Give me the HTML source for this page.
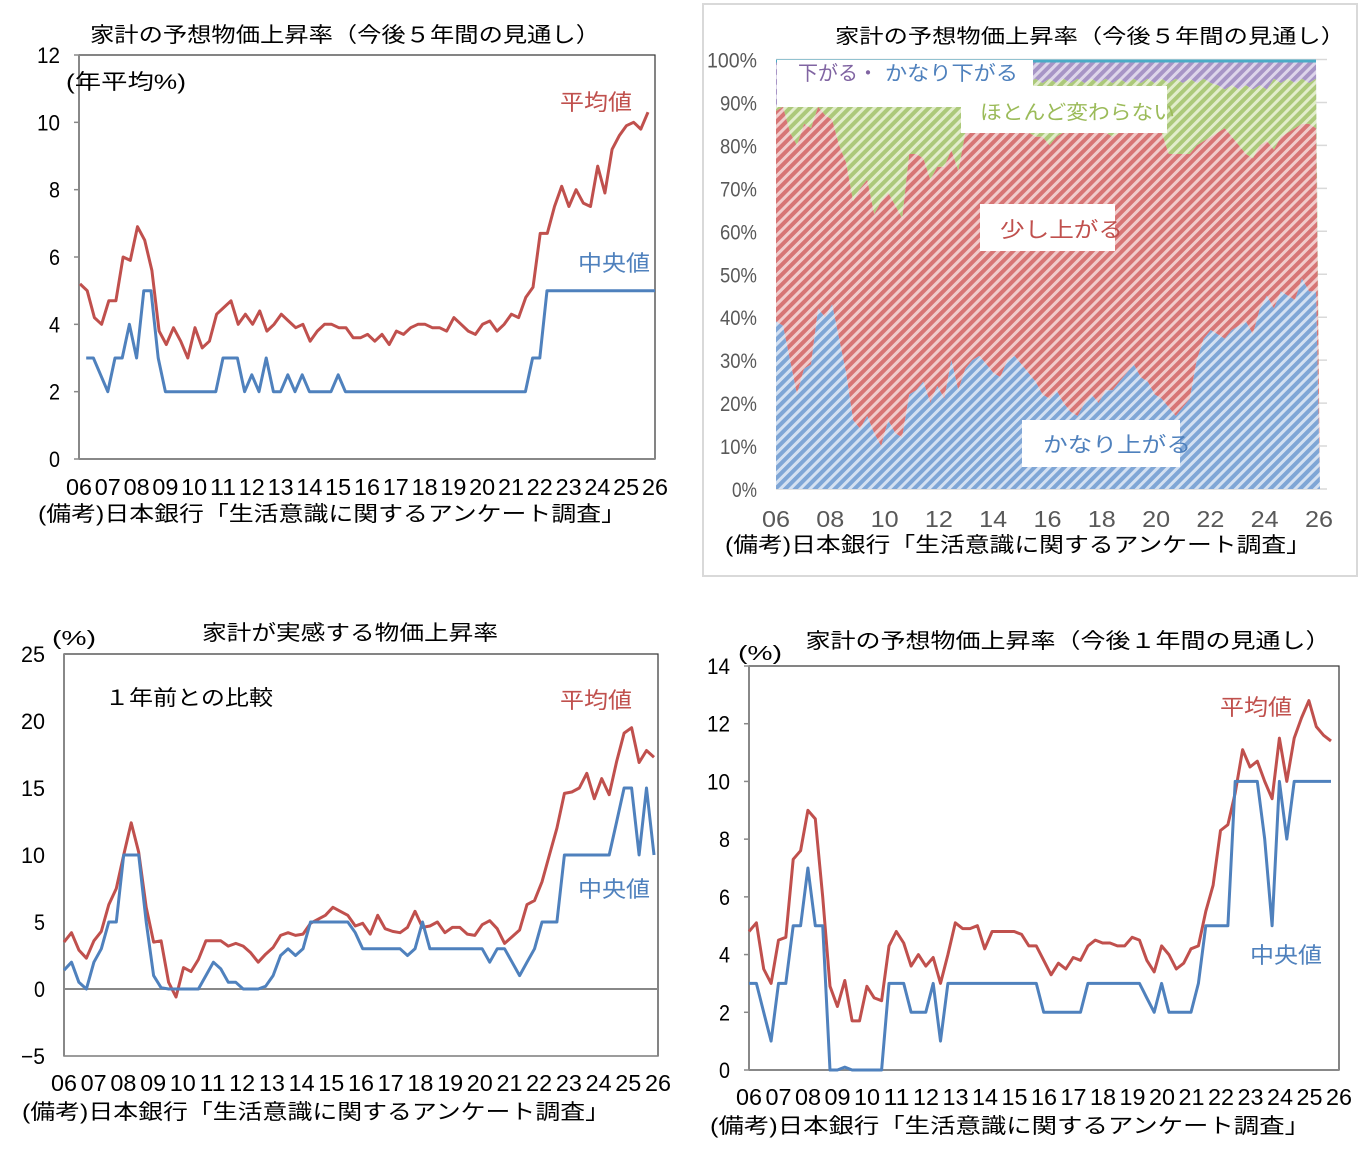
<!DOCTYPE html>
<html><head><meta charset="utf-8"><style>
html,body{margin:0;padding:0;background:#fff;}
svg{display:block;font-family:"Liberation Sans","Noto Sans CJK JP",sans-serif;}
</style></head><body>
<svg id="s" width="1368" height="1167" viewBox="0 0 1368 1167" xmlns="http://www.w3.org/2000/svg">
<defs>
<pattern id="pb" width="7" height="7" patternUnits="userSpaceOnUse" patternTransform="rotate(45)"><rect width="7" height="7" fill="#7fa6d6"/><rect width="3" height="7" fill="#d4e1f2"/></pattern>
<pattern id="pr" width="7" height="7" patternUnits="userSpaceOnUse" patternTransform="rotate(45)"><rect width="7" height="7" fill="#d77575"/><rect width="3" height="7" fill="#f1cccc"/></pattern>
<pattern id="pg" width="7" height="7" patternUnits="userSpaceOnUse" patternTransform="rotate(45)"><rect width="7" height="7" fill="#acc97a"/><rect width="3" height="7" fill="#e2edcc"/></pattern>
<pattern id="pp" width="7" height="7" patternUnits="userSpaceOnUse" patternTransform="rotate(45)"><rect width="7" height="7" fill="#a795c6"/><rect width="3" height="7" fill="#ddd5ea"/></pattern>
</defs>
<g id="g"></g>
</svg>
<script>
var g=document.getElementById('g');var NS='http://www.w3.org/2000/svg';
function el(t,a,txt){var e=document.createElementNS(NS,t);for(var k in a)e.setAttribute(k,a[k]);if(txt!=null)e.textContent=txt;g.appendChild(e);return e;}
function T(x,y,s,txt,o){o=o||{};var a={x:x,y:y,'font-size':s,fill:o.fill||'#000'};if(o.anchor)a['text-anchor']=o.anchor;if(o.len){a.textLength=o.len;a.lengthAdjust='spacingAndGlyphs';}return el('text',a,txt);}
function line(vals,x0,x1,yf,col){var p=[];for(var i=0;i<vals.length;i++){if(vals[i]==null)continue;p.push((x0+(x1-x0)*i/(vals.length-1)).toFixed(1)+','+yf(vals[i]).toFixed(1));}el('polyline',{points:p.join(' '),fill:'none',stroke:col,'stroke-width':3,'stroke-linejoin':'round'});}
var RED='#c0504d',BLUE='#4f81bd';
function xlabels(x0,step,y,n,yrs,size,col){for(var i=0;i<yrs.length;i++){T(x0+i*step,y,size,yrs[i],{anchor:'middle',len:Math.min(step-2,26),fill:col||'#000'});}}
var yrs=[];for(var i=6;i<=26;i++)yrs.push((i<10?'0':'')+i);

// ===== Chart 1 =====
(function(){var x0=79,x1=655,yt=55,yb=459;var yf=function(v){return yb-(yb-yt)*v/12;};
el('rect',{x:x0,y:yt,width:x1-x0,height:yb-yt,fill:'none',stroke:'#333','stroke-width':1.2});
el('line',{x1:x0,y1:yt,x2:x0,y2:yb,stroke:'#888','stroke-width':2});el('line',{x1:x0,y1:yb,x2:x1,y2:yb,stroke:'#888','stroke-width':2});
for(var v=0;v<=12;v+=2){T(60,yf(v)+8,22,String(v),{anchor:'end',len:v>=10?23:11});el('line',{x1:x0-5,y1:yf(v),x2:x0,y2:yf(v),stroke:'#888','stroke-width':1.5});}
var r=[5.2,5.0,4.2,4.0,4.7,4.7,6.0,5.9,6.9,6.5,5.6,3.8,3.4,3.9,3.5,3.0,3.9,3.3,3.5,4.3,4.5,4.7,4.0,4.3,4.0,4.4,3.8,4.0,4.3,4.1,3.9,4.0,3.5,3.8,4.0,4.0,3.9,3.9,3.6,3.6,3.7,3.5,3.7,3.4,3.8,3.7,3.9,4.0,4.0,3.9,3.9,3.8,4.2,4.0,3.8,3.7,4.0,4.1,3.8,4.0,4.3,4.2,4.8,5.1,6.7,6.7,7.5,8.1,7.5,8.0,7.6,7.5,8.7,7.9,9.2,9.6,9.9,10.0,9.8,10.3];
line(r,80,648,yf,RED);
var b=[null,3,3,2.5,2,3,3,4,3,5,5,3,2,2,2,2,2,2,2,2,3,3,3,2,2.5,2,3,2,2,2.5,2,2.5,2,2,2,2,2.5,2];
while(b.length<63)b.push(2);b.push(3,3);while(b.length<81)b.push(5);
line(b,79,655,yf,BLUE);
T(345,42,21,'家計の予想物価上昇率（今後５年間の見通し）',{anchor:'middle',len:510});
T(66,89,21,'(年平均%)',{len:120});
T(560,110,22,'平均値',{fill:RED,len:72});
T(578,271,22,'中央値',{fill:BLUE,len:72});
xlabels(79,28.8,495,21,yrs,23);
T(38,521,21,'(備考)日本銀行「生活意識に関するアンケート調査」',{len:588});
})();

// ===== Chart 2 =====
(function(){el('rect',{x:703,y:4,width:654,height:572,fill:'none',stroke:'#d9d9d9','stroke-width':2});
var x0=776,x1=1316,yt=59.5,yb=489;var yf=function(v){return yb-(yb-yt)*v/100;};
for(var v=0;v<=100;v+=10){el('line',{x1:x0,y1:yf(v),x2:1327,y2:yf(v),stroke:'#d9d9d9','stroke-width':1.5});T(757,yf(v)+8,21,v+'%',{anchor:'end',fill:'#595959',len:v==100?50:(v==0?25:37)});}
var B=[39,38,30,22,28,29,42,40,43,35,27,16,14,17,13,10,16,13,12,22,23,25,20,24,21,30,23,28,30,31,29,27,26,30,31,29,27,25,22,21,23,20,18,17,20,22,20,23,23,25,27,29,26,25,22,21,19,17,19,21,30,35,37,36,35,37,38,39,36,42,45,42,46,45,44,49,46,46];
var R=[88,89,83,80,85,84,89,87,86,80,76,67,70,72,64,67,69,66,63,78,78,77,72,75,75,79,74,83,83,83,83,83,83,83,83,83,83,82,82,80,82,83,83,83,83,83,83,83,82,83,83,83,83,83,83,83,78,78,78,78,80,81,82,83,84,82,80,78,77,80,81,79,82,83,84,85,85,84,86,84];
R=R.slice(0,B.length);
var G=[],P=[];for(var i=0;i<B.length;i++){G.push(i<14?89:(i>=63&&i<=70?93+((i*3)%2):94.5+((i*5)%2)));P.push(99.3);}
function xs(i){return x0+(x1-x0)*i/(B.length-1);}
function area(top,bot,fill){var p=[];for(var i=0;i<top.length;i++)p.push(xs(i).toFixed(1)+','+yf(top[i]).toFixed(1));p.push('1320,'+yf(0));for(var i=bot.length-1;i>=0;i--)p.push(xs(i).toFixed(1)+','+yf(bot[i]).toFixed(1));el('polygon',{points:p.join(' '),fill:fill});}
var Z=B.map(function(){return 0;});
el('rect',{x:x0,y:yf(100),width:x1-x0,height:3,fill:'#4bacc6'});
area(P,G,'url(#pp)');area(G,R,'url(#pg)');area(R,B,'url(#pr)');area(B,Z,'url(#pb)');
el('rect',{x:777,y:60,width:256,height:47,fill:'#fff'});
el('rect',{x:961,y:86,width:206,height:47,fill:'#fff'});
el('rect',{x:980,y:204,width:135,height:47,fill:'#fff'});
el('rect',{x:1022,y:420,width:158,height:47,fill:'#fff'});
T(798,80,20,'下がる・',{fill:'#8064a2',len:80});T(885,80,20,'かなり下がる',{fill:'#4f81bd',len:133});
T(980,119,20,'ほとんど変わらない',{fill:'#9bbb59',len:195});
T(1000,237,21,'少し上がる',{fill:RED,len:123});
T(1043,452,21,'かなり上がる',{fill:BLUE,len:148});
T(835,43,20,'家計の予想物価上昇率（今後５年間の見通し）',{len:510});
for(var i=0;i<=10;i++)T(x0+i*54.3,527,23,yrs[i*2],{anchor:'middle',fill:'#595959',len:28});
T(725,552,21,'(備考)日本銀行「生活意識に関するアンケート調査」',{len:586});
})();

// ===== Chart 3 =====
(function(){var x0=64,x1=658,yt=654,yb=1056;var yf=function(v){return yb-(yb-yt)*(v+5)/30;};
el('rect',{x:x0,y:yt,width:x1-x0,height:yb-yt,fill:'none',stroke:'#333','stroke-width':1.2});
el('line',{x1:x0,y1:yt,x2:x0,y2:yb,stroke:'#888','stroke-width':2});el('line',{x1:x0,y1:yf(0),x2:x1,y2:yf(0),stroke:'#888','stroke-width':2});el('line',{x1:x0,y1:yb,x2:x1,y2:yb,stroke:'#888','stroke-width':1.5});
for(var v=-5;v<=25;v+=5){T(45,yf(v)+8,22,v<0?'−5':String(v),{anchor:'end',len:v>=10||v<0?24:11});}
var r=[3.5,4.2,2.9,2.3,3.6,4.3,6.3,7.5,10.0,12.4,10.2,6.1,3.5,3.6,0.5,-0.6,1.6,1.3,2.2,3.6,3.6,3.6,3.2,3.4,3.2,2.7,2.0,2.6,3.1,4.0,4.2,4.0,4.1,4.9,5.2,5.5,6.1,5.8,5.5,4.7,4.9,4.1,5.5,4.5,4.3,4.2,4.6,5.8,4.6,4.7,5.0,4.2,4.6,4.6,4.1,4.0,4.8,5.1,4.5,3.4,3.9,4.4,6.3,6.6,8.0,10.0,12.0,14.6,14.7,15.0,16.1,14.2,15.7,14.5,17.0,19.1,19.5,16.9,17.8,17.3];
var b=[1.4,2.0,0.5,0,2.0,3.0,5.0,5.0,10,10,10,5,1,0.1,0,0,0,0,0,1,2,1.5,0.5,0.5,0,0,0,0.2,1,2.5,3,2.5,3,5,5,5,5,5,5,4.2,3,3,3,3,3,3,2.5,3,5,3,3,3,3,3,3,3,3,2,3,3,2,1,2,3,5,5,5,10,10,10,10,10,10,10];
b=b.slice(0,74);while(b.length<74)b.push(10);b.push(12.5,15,15,10,15,10);
line(r,64,654,yf,RED);line(b,64,654,yf,BLUE);
T(350,640,21,'家計が実感する物価上昇率',{anchor:'middle',len:296});
T(52,645,20,'(%)',{len:44});
T(105,705,21,'１年前との比較',{len:168});
T(560,708,22,'平均値',{fill:RED,len:72});
T(578,897,22,'中央値',{fill:BLUE,len:72});
xlabels(64,29.7,1091,21,yrs,23);
T(22,1119,21,'(備考)日本銀行「生活意識に関するアンケート調査」',{len:588});
})();

// ===== Chart 4 =====
(function(){var x0=749,x1=1339,yt=666,yb=1070;var yf=function(v){return yb-(yb-yt)*v/14;};
el('rect',{x:x0,y:yt,width:x1-x0,height:yb-yt,fill:'none',stroke:'#333','stroke-width':1.2});
el('line',{x1:x0,y1:yt,x2:x0,y2:yb,stroke:'#888','stroke-width':2});el('line',{x1:x0,y1:yb,x2:x1,y2:yb,stroke:'#888','stroke-width':2});
for(var v=0;v<=14;v+=2){T(730,yf(v)+8,22,String(v),{anchor:'end',len:v>=10?23:11});el('line',{x1:x0-5,y1:yf(v),x2:x0,y2:yf(v),stroke:'#888','stroke-width':1.5});}
var r=[4.8,5.1,3.5,3.0,4.5,4.6,7.3,7.6,9.0,8.7,6.0,2.9,2.2,3.1,1.7,1.7,2.9,2.5,2.4,4.3,4.8,4.4,3.6,4.0,3.6,3.9,3.0,4.0,5.1,4.9,4.9,5.0,4.2,4.8,4.8,4.8,4.8,4.7,4.3,4.3,3.8,3.3,3.7,3.5,3.9,3.8,4.3,4.5,4.4,4.4,4.3,4.3,4.6,4.5,3.8,3.4,4.3,4.0,3.5,3.7,4.2,4.3,5.5,6.4,8.3,8.5,9.6,11.1,10.5,10.7,10.0,9.4,11.5,10.0,11.5,12.2,12.8,11.9,11.6,11.4];
var b=[3,3,2,1,3,3,5,5,7,5,5,0,0,0.1,0,0,0,0,0,3,3,3,2,2,2,3,1];
while(b.length<40)b.push(3);while(b.length<46)b.push(2);while(b.length<54)b.push(3);
b.push(2.5,2,3,2,2,2,2,3,5,5,5,5,10,10,10,10,8,5,10,8);while(b.length<80)b.push(10);
line(r,749,1331,yf,RED);line(b,749,1331,yf,BLUE);
T(1068,648,21,'家計の予想物価上昇率（今後１年間の見通し）',{anchor:'middle',len:525});
T(738,660,20,'(%)',{len:44});
T(1220,715,22,'平均値',{fill:RED,len:72});
T(1250,963,22,'中央値',{fill:BLUE,len:72});
xlabels(749,29.5,1105,21,yrs,23);
T(710,1133,21,'(備考)日本銀行「生活意識に関するアンケート調査」',{len:600});
})();
</script>
</body></html>
